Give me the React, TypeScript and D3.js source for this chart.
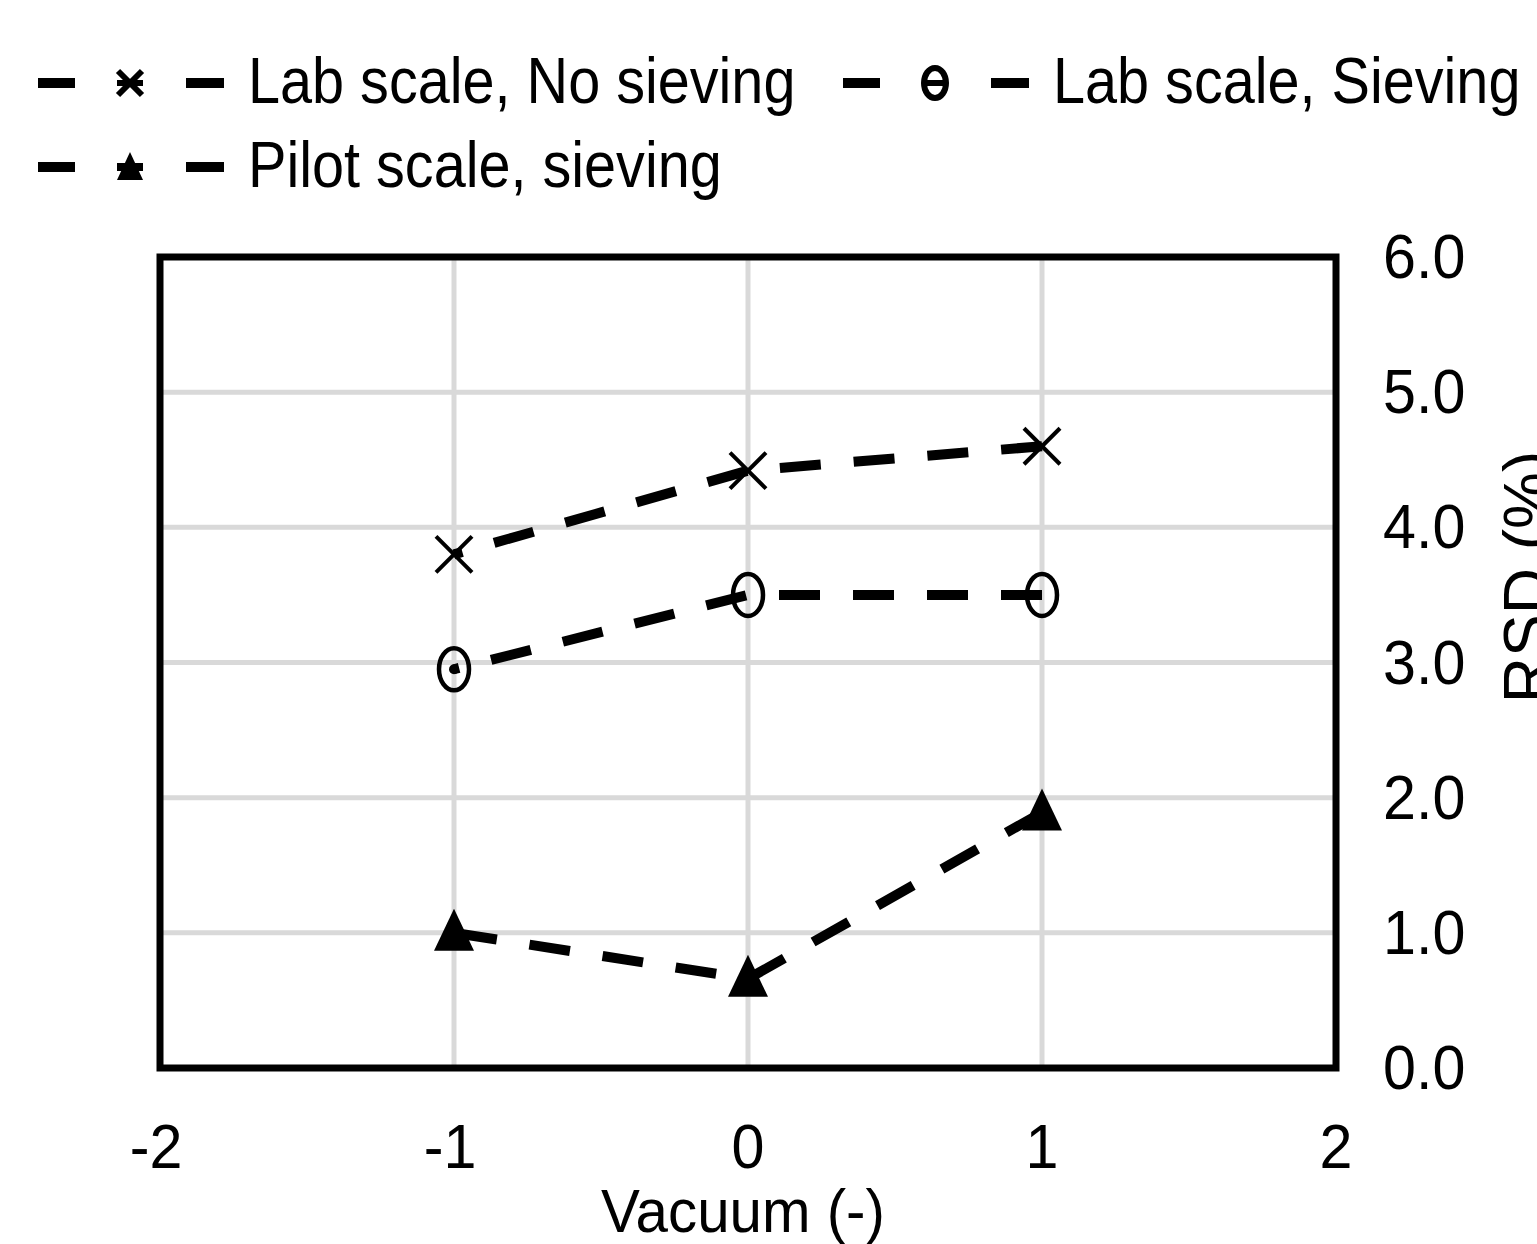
import React from 'react';
import * as d3 from 'd3';

// data
const vacuum = [-1, 0, 1];
const labNoSieving = [3.8, 4.42, 4.6];
const labSieving = [2.95, 3.5, 3.5];
const pilotSieving = [1.0, 0.66, 1.89];
const xTicks = [-2, -1, 0, 1, 2];
const yTicks = [0, 1, 2, 3, 4, 5, 6];
const seriesNames = ['Lab scale, No sieving', 'Lab scale, Sieving', 'Pilot scale, sieving'];

const W = 1537;
const H = 1244;
const FONT = '"Liberation Sans", Arial, sans-serif';

const x = d3.scaleLinear().domain([-2, 2]).range([160, 1336]);
const y = d3.scaleLinear().domain([0, 6]).range([1068, 257]);

type Pt = { v: number; r: number };

// the dash pattern runs from the last point backwards
const line = d3.line<Pt>().x(d => x(d.v)).y(d => y(d.r));
const toPts = (vals: number[]): Pt[] => vacuum.map((v, i) => ({ v, r: vals[i] })).reverse();

const Cross = ({ cx, cy, s, w }: { cx: number; cy: number; s: number; w: number }) => (
  <g stroke="#000" strokeWidth={w}>
    <line x1={cx - s} y1={cy - s} x2={cx + s} y2={cy + s} />
    <line x1={cx - s} y1={cy + s} x2={cx + s} y2={cy - s} />
  </g>
);

const Tri = ({ cx, cy }: { cx: number; cy: number }) => (
  <path d={`M${cx},${cy - 24}L${cx + 20},${cy + 18}L${cx - 20},${cy + 18}Z`} fill="#000" />
);

const Label = ({ tx, ty, sx, size, anchor, children }: any) => (
  <text
    transform={`translate(${tx},${ty}) scale(${sx},1)`}
    fontFamily={FONT}
    fontSize={size}
    textAnchor={anchor || 'start'}
    fill="#000"
  >
    {children}
  </text>
);

const LegendItem = ({ x0, yc, idx, name }: { x0: number; yc: number; idx: number; name: string }) => {
  const mx = x0 + 92;
  return (
    <g>
      <line x1={x0} x2={x0 + 37} y1={yc} y2={yc} stroke="#000" strokeWidth={10} />
      <line x1={x0 + 148} x2={x0 + 186} y1={yc} y2={yc} stroke="#000" strokeWidth={10} />
      {idx === 0 && (
        <g>
          <Cross cx={mx} cy={yc} s={12} w={6} />
          <line x1={mx - 13} x2={mx + 13} y1={yc} y2={yc} stroke="#000" strokeWidth={6} />
        </g>
      )}
      {idx === 1 && (
        <g>
          <ellipse cx={mx} cy={yc} rx={11} ry={15} fill="none" stroke="#000" strokeWidth={6} />
          <line x1={mx - 11} x2={mx + 11} y1={yc} y2={yc} stroke="#000" strokeWidth={6} />
        </g>
      )}
      {idx === 2 && (
        <g>
          <path d={`M${mx},${yc - 15}L${mx + 13},${yc + 13}L${mx - 13},${yc + 13}Z`} fill="#000" />
          <line x1={mx - 13} x2={mx + 13} y1={yc} y2={yc} stroke="#000" strokeWidth={8} />
        </g>
      )}
      <Label tx={x0 + 210} ty={yc + 20} sx={0.9} size={64}>{name}</Label>
    </g>
  );
};

export default function App() {
  const dash = '41 33';
  return (
    <svg
      width={W}
      height={H}
      style={{ position: 'absolute', left: 0, top: 0, background: '#fff' }}
    >
      <rect x={0} y={0} width={W} height={H} fill="#fff" />

      {/* legend */}
      <LegendItem x0={38} yc={83} idx={0} name={seriesNames[0]} />
      <LegendItem x0={843} yc={83} idx={1} name={seriesNames[1]} />
      <LegendItem x0={38} yc={167} idx={2} name={seriesNames[2]} />

      {/* grid */}
      <g stroke="#d9d9d9" strokeWidth={5}>
        {xTicks.slice(1, -1).map(t => (
          <line key={'gx' + t} x1={x(t)} x2={x(t)} y1={y(0)} y2={y(6)} />
        ))}
        {yTicks.slice(1, -1).map(t => (
          <line key={'gy' + t} x1={x(-2)} x2={x(2)} y1={y(t)} y2={y(t)} />
        ))}
      </g>

      {/* series lines */}
      <g fill="none" stroke="#000" strokeWidth={10} strokeDasharray={dash}>
        <path d={line(toPts(labNoSieving)) || ''} />
        <path d={line(toPts(labSieving)) || ''} />
        <path d={line(toPts(pilotSieving)) || ''} />
      </g>

      {/* markers */}
      {vacuum.map((v, i) => (
        <Cross key={'c' + i} cx={x(v)} cy={y(labNoSieving[i])} s={18} w={4} />
      ))}
      {vacuum.map((v, i) => (
        <ellipse key={'o' + i} cx={x(v)} cy={y(labSieving[i])} rx={15} ry={21} fill="none" stroke="#000" strokeWidth={4.5} />
      ))}
      <circle cx={x(vacuum[0])} cy={y(labSieving[0])} r={5} fill="#000" />
      {vacuum.map((v, i) => (
        <Tri key={'t' + i} cx={x(v)} cy={y(pilotSieving[i])} />
      ))}

      {/* frame */}
      <rect x={x(-2)} y={y(6)} width={x(2) - x(-2)} height={y(0) - y(6)} fill="none" stroke="#000" strokeWidth={7} />

      {/* x axis */}
      {xTicks.map(t => (
        <Label key={'xt' + t} tx={x(t) - (t < 0 ? 4 : 0)} ty={1168} sx={0.94} size={63} anchor="middle">{t}</Label>
      ))}
      <Label tx={743} ty={1232} sx={0.94} size={62} anchor="middle">Vacuum (-)</Label>

      {/* y axis on the right */}
      {yTicks.map(t => (
        <Label key={'yt' + t} tx={1383} ty={y(t) + 21} sx={0.94} size={63}>{d3.format('.1f')(t)}</Label>
      ))}
      <text
        transform="translate(1549,577) rotate(-90)"
        fontFamily={FONT}
        fontSize={64}
        textAnchor="middle"
        fill="#000"
      >
        RSD (%)
      </text>
    </svg>
  );
}
